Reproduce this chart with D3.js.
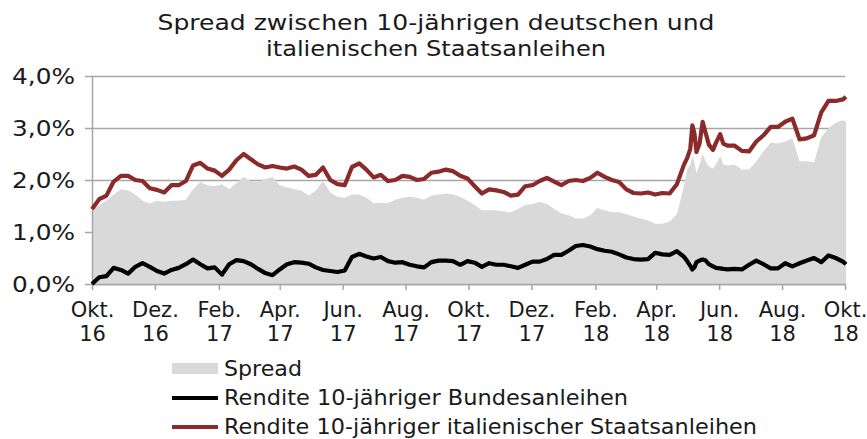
<!DOCTYPE html>
<html><head><meta charset="utf-8">
<script src="https://cdn.jsdelivr.net/npm/d3@7"></script>
<style>
body{margin:0;background:#fff}
svg{display:block}
text{font-family:"DejaVu Sans",Verdana,sans-serif;fill:#1a1a1a}
</style>
</head><body>
<svg id="c" width="867" height="439"></svg>
<script>
// ---- data ----
const dates = [
"2016-10-01","2016-10-08","2016-10-15","2016-10-22","2016-10-29","2016-11-05","2016-11-12","2016-11-19","2016-11-26","2016-12-03","2016-12-10","2016-12-17","2016-12-24","2016-12-31",
"2017-01-07","2017-01-14","2017-01-21","2017-01-28","2017-02-04","2017-02-11","2017-02-18","2017-02-25","2017-03-04","2017-03-11","2017-03-18","2017-03-25","2017-04-01","2017-04-08",
"2017-04-15","2017-04-22","2017-04-29","2017-05-06","2017-05-13","2017-05-20","2017-05-27","2017-06-03","2017-06-10","2017-06-17","2017-06-24","2017-07-01","2017-07-08","2017-07-15",
"2017-07-22","2017-07-29","2017-08-05","2017-08-12","2017-08-19","2017-08-26","2017-09-02","2017-09-09","2017-09-16","2017-09-23","2017-09-30","2017-10-07","2017-10-14","2017-10-21",
"2017-10-28","2017-11-04","2017-11-11","2017-11-18","2017-11-25","2017-12-02","2017-12-09","2017-12-16","2017-12-23","2017-12-30","2018-01-06","2018-01-13","2018-01-20","2018-01-27",
"2018-02-03","2018-02-10","2018-02-17","2018-02-24","2018-03-03","2018-03-10","2018-03-17","2018-03-24","2018-03-31","2018-04-07","2018-04-14","2018-04-21",
"2018-04-28","2018-05-01","2018-05-04","2018-05-06","2018-05-08","2018-05-10","2018-05-13","2018-05-16","2018-05-19","2018-05-22","2018-05-26","2018-05-29","2018-06-02","2018-06-05","2018-06-09",
"2018-06-16","2018-06-23","2018-06-30","2018-07-07","2018-07-14","2018-07-21","2018-07-28","2018-08-04","2018-08-11","2018-08-18","2018-08-25","2018-09-01","2018-09-08","2018-09-15","2018-09-22","2018-09-29",
"2018-10-02"
];
const spread = [
1.42,1.52,1.60,1.72,1.82,1.80,1.72,1.60,1.55,1.60,1.58,1.60,1.60,1.62,
1.82,1.96,1.90,1.88,1.92,1.82,1.94,2.06,1.98,1.96,2.02,2.06,1.90,1.86,
1.82,1.80,1.70,1.80,1.98,1.76,1.68,1.66,1.72,1.72,1.66,1.56,1.56,1.56,
1.62,1.66,1.68,1.66,1.62,1.70,1.72,1.74,1.72,1.68,1.60,1.52,1.42,1.42,
1.42,1.40,1.38,1.44,1.52,1.54,1.58,1.54,1.44,1.36,1.32,1.26,1.26,1.32,
1.46,1.42,1.38,1.38,1.34,1.30,1.26,1.22,1.16,1.16,1.20,1.34,
1.90,2.20,2.30,2.45,2.35,2.13,2.30,2.50,2.35,2.26,2.22,2.30,2.46,2.30,2.28,
2.30,2.20,2.20,2.36,2.55,2.72,2.70,2.74,2.80,2.36,2.36,2.34,2.82,3.00,3.10,3.15,
3.12
];
const bund = [
0.00,0.13,0.15,0.31,0.27,0.20,0.33,0.40,0.33,0.25,0.20,0.27,0.31,0.38,
0.47,0.38,0.30,0.32,0.18,0.38,0.46,0.44,0.38,0.29,0.21,0.17,0.28,0.38,
0.42,0.41,0.39,0.32,0.27,0.25,0.23,0.26,0.52,0.58,0.53,0.49,0.52,0.44,
0.41,0.42,0.37,0.34,0.32,0.42,0.45,0.45,0.44,0.37,0.44,0.41,0.33,0.40,
0.37,0.37,0.34,0.31,0.37,0.43,0.43,0.48,0.56,0.56,0.64,0.73,0.75,0.72,
0.67,0.64,0.62,0.57,0.51,0.48,0.47,0.48,0.60,0.57,0.56,0.63,
0.52,0.44,0.35,0.28,0.32,0.42,0.45,0.47,0.45,0.38,0.34,0.31,0.30,0.29,0.28,
0.29,0.28,0.37,0.45,0.38,0.30,0.30,0.40,0.34,0.40,0.45,0.50,0.42,0.55,0.50,0.43,
0.38
];
const btp = [
1.44,1.63,1.70,1.97,2.08,2.08,2.00,1.98,1.84,1.81,1.76,1.90,1.90,1.98,
2.28,2.33,2.22,2.18,2.08,2.20,2.38,2.50,2.40,2.30,2.24,2.27,2.24,2.22,
2.26,2.20,2.08,2.10,2.24,2.00,1.92,1.90,2.25,2.32,2.20,2.05,2.10,1.98,
2.00,2.08,2.06,2.00,2.02,2.14,2.16,2.20,2.17,2.08,2.03,1.88,1.74,1.82,
1.80,1.77,1.70,1.72,1.88,1.90,1.98,2.04,1.97,1.90,1.98,2.00,1.98,2.04,
2.14,2.06,2.00,1.96,1.82,1.75,1.74,1.76,1.72,1.75,1.74,1.92,
2.30,2.42,2.60,3.05,2.90,2.54,2.70,3.12,2.90,2.68,2.58,2.72,2.88,2.70,2.66,
2.66,2.56,2.55,2.74,2.86,3.02,3.02,3.12,3.18,2.78,2.80,2.86,3.30,3.52,3.52,3.55,
3.60
];
const yTicks = [0, 1, 2, 3, 4];
const xTickDates = ["2016-10-01","2016-12-01","2017-02-01","2017-04-01","2017-06-01","2017-08-01","2017-10-01","2017-12-01","2018-02-01","2018-04-01","2018-06-01","2018-08-01","2018-10-01"];
const xTickMonths = ["Okt.","Dez.","Feb.","Apr.","Jun.","Aug.","Okt.","Dez.","Feb.","Apr.","Jun.","Aug.","Okt."];
const xTickYears = ["16","16","17","17","17","17","17","17","18","18","18","18","18"];
const titleLines = ["Spread zwischen 10-jährigen deutschen und", "italienischen Staatsanleihen"];
const legendLabels = ["Spread", "Rendite 10-jähriger Bundesanleihen", "Rendite 10-jähriger italienischer Staatsanleihen"];

// ---- chart ----
const parse = d3.timeParse("%Y-%m-%d");
const D = dates.map(parse);
const svg = d3.select("#c");
const L = 92, R = 845, T = 76, B = 284;
const x = d3.scaleTime().domain([parse("2016-10-01"), parse("2018-10-01")]).range([L, R]);
const y = d3.scaleLinear().domain([0, 4]).range([B, T]);
const gridCol = "#a6a6a6";

// fit helper: stretch text horizontally like the wide original face
function fit(sel, w) {
  sel.attr("textLength", w).attr("lengthAdjust", "spacingAndGlyphs");
}

// gridlines
const grid = svg.append("g").attr("transform", `translate(${L},0)`)
  .call(d3.axisLeft(y).tickValues(yTicks).tickSizeInner(-(R - L)).tickSizeOuter(0).tickFormat(""));
grid.select(".domain").remove();
grid.selectAll("line").attr("stroke", gridCol).attr("stroke-width", 1.5);

// area
const rows = D.map((d, i) => ({d, s: spread[i], b: bund[i], i: btp[i]}));
svg.append("path").datum(rows)
  .attr("fill", "#d9d9d9")
  .attr("d", d3.area().x(r => x(r.d)).y0(y(0)).y1(r => y(r.s)));

// y axis
const ya = svg.append("g").attr("transform", `translate(${L},0)`)
  .call(d3.axisLeft(y).tickValues(yTicks).tickSizeInner(7).tickSizeOuter(0).tickPadding(10)
    .tickFormat(v => d3.format(".1f")(v).replace(".", ",") + "%"));
ya.select(".domain").attr("stroke", gridCol).attr("stroke-width", 1.5);
ya.selectAll("line").attr("stroke", gridCol).attr("stroke-width", 1.5);
ya.selectAll("text").attr("font-size", 22).attr("font-family", "DejaVu Sans").attr("fill", "#1a1a1a")
  .attr("dy", "0.36em").call(fit, 63);

// x axis
const xa = svg.append("g").attr("transform", `translate(0,${B})`)
  .call(d3.axisBottom(x).tickValues(xTickDates.map(parse)).tickSizeInner(6).tickSizeOuter(0).tickFormat(""));
xa.select(".domain").attr("stroke", gridCol).attr("stroke-width", 1.5);
xa.selectAll("line").attr("stroke", gridCol).attr("stroke-width", 1.5);
xa.selectAll(".tick text").each(function(_, k) {
  const t = d3.select(this).attr("y", null).attr("dy", null).attr("font-size", 21)
    .attr("font-family", "DejaVu Sans").attr("fill", "#1a1a1a");
  t.append("tspan").attr("x", 0).attr("y", 33).text(xTickMonths[k]);
  t.append("tspan").attr("x", 0).attr("y", 57).text(xTickYears[k]);
});

// lines
svg.append("path").datum(rows).attr("fill", "none").attr("stroke", "#000")
  .attr("stroke-width", 4.2).attr("stroke-linejoin", "round")
  .attr("d", d3.line().x(r => x(r.d)).y(r => y(r.b)));
svg.append("path").datum(rows).attr("fill", "none").attr("stroke", "#8b2a2a")
  .attr("stroke-width", 4.2).attr("stroke-linejoin", "round")
  .attr("d", d3.line().x(r => x(r.d)).y(r => y(r.i)));

// title
const titleW = [557, 340];
svg.selectAll("text.title").data(titleLines).join("text").attr("class", "title")
  .attr("x", 436).attr("y", (d, k) => 30 + k * 26).attr("text-anchor", "middle")
  .attr("font-size", 22).text(d => d)
  .each(function(d, k) { fit(d3.select(this), titleW[k]); });

// legend
const lg = svg.append("g");
lg.append("rect").attr("x", 172).attr("y", 363).attr("width", 46).attr("height", 11).attr("fill", "#d9d9d9");
lg.append("line").attr("x1", 172).attr("x2", 218).attr("y1", 398).attr("y2", 398).attr("stroke", "#000").attr("stroke-width", 4);
lg.append("line").attr("x1", 172).attr("x2", 218).attr("y1", 427).attr("y2", 427).attr("stroke", "#8b2a2a").attr("stroke-width", 4);
const legendW = [78, 404, 533];
lg.selectAll("text").data(legendLabels).join("text")
  .attr("x", 224).attr("y", (d, k) => 376 + k * 29).attr("font-size", 21).text(d => d)
  .each(function(d, k) { fit(d3.select(this), legendW[k]); });
</script>
</body></html>
